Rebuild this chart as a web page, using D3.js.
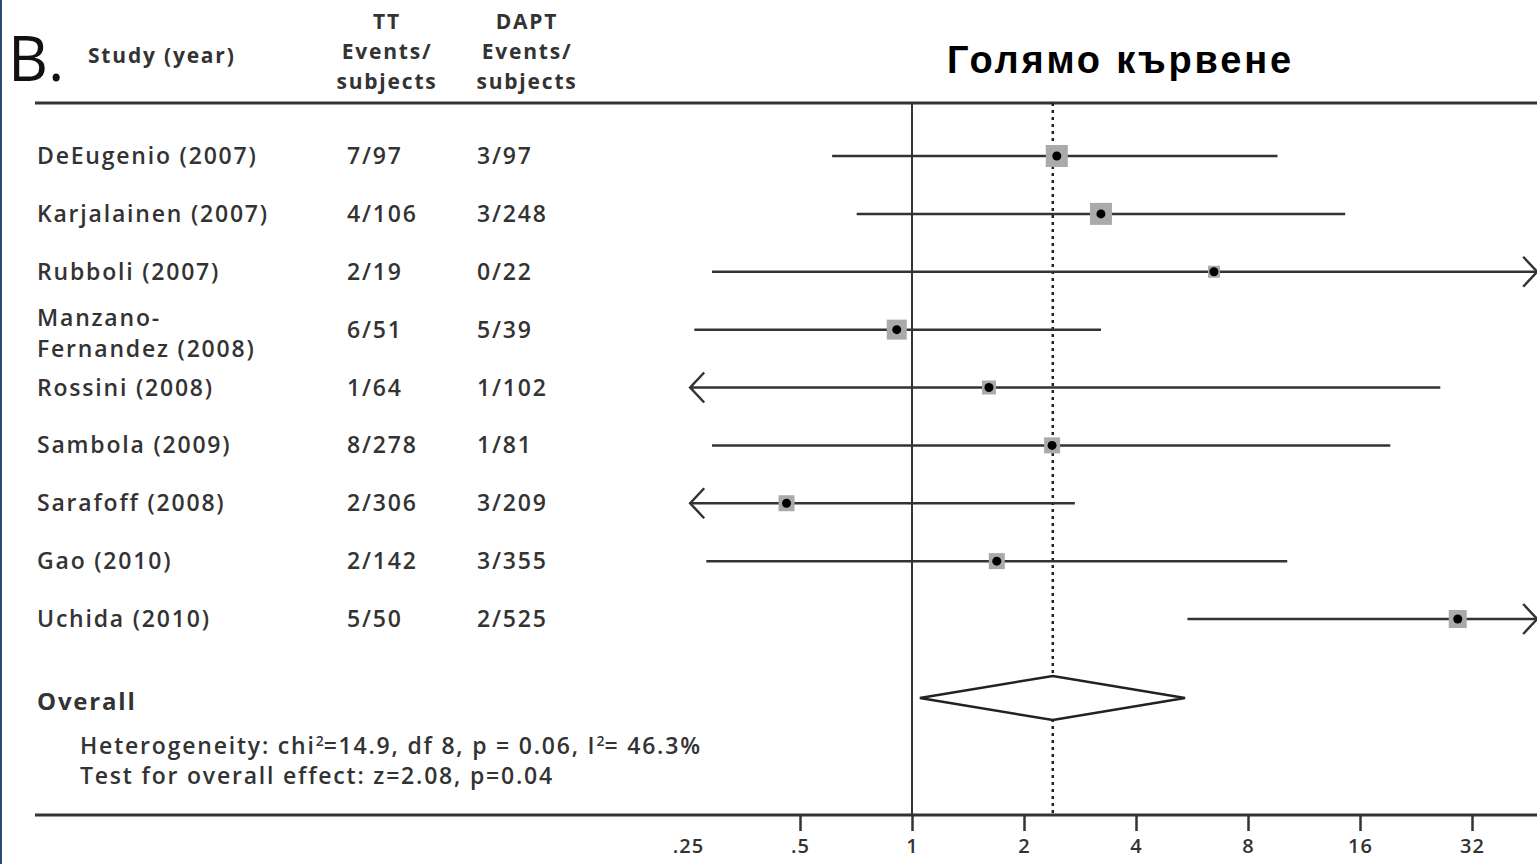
<!DOCTYPE html>
<html>
<head>
<meta charset="utf-8">
<script src="https://cdn.jsdelivr.net/npm/d3@7"></script>
<style>
  body { margin: 0; background: #fff; }
  svg { display: block; }
  .lbl { font-family: "Open Sans", sans-serif; font-weight: 600; fill: #333; font-size: 23px; letter-spacing: 1.8px; }
</style>
</head>
<body>
<svg id="chart"></svg>
<script>
// study rows
const studies = ["DeEugenio (2007)", "Karjalainen (2007)", "Rubboli (2007)", "Manzano-\nFernandez (2008)",
    "Rossini (2008)", "Sambola (2009)", "Sarafoff (2008)", "Gao (2010)", "Uchida (2010)"];
const ttEvents = ["7/97", "4/106", "2/19", "6/51", "1/64", "8/278", "2/306", "2/142", "5/50"];
const daptEvents = ["3/97", "3/248", "0/22", "5/39", "1/102", "1/81", "3/209", "3/355", "2/525"];
// odds ratio + 95% CI (log2 axis)
const orValue = [2.45, 3.22, 6.48, 0.91, 1.61, 2.38, 0.46, 1.69, 29.3];
const ciLow = [0.61, 0.71, 0.29, 0.26, 0.12, 0.29, 0.15, 0.28, 5.5];
const ciHigh = [9.6, 14.6, 70, 3.22, 26.3, 19.3, 2.74, 10.2, 90];
const weights = [22, 22, 12, 20, 14, 16, 16, 16, 18];  // box size
const overall = { or: 2.39, lo: 1.05, hi: 5.42 };
const tickValues = [0.25, 0.5, 1, 2, 4, 8, 16, 32];
const tickLabels = [".25", ".5", "1", "2", "4", "8", "16", "32"];

const W = 1537, H = 864;
const svg = d3.select('#chart').attr('width', W).attr('height', H);

svg.append('rect').attr('x', 0).attr('y', 0).attr('width', 2).attr('height', H)
    .attr('fill', '#2c4b6e');

// scales
const x = d3.scaleLog().base(2).domain([0.25, 32]).range([688, 1472]);
const xMin = 0.2534, xMax = 47.9;   // visible plot edges
const y = d3.scalePoint().domain(studies).range([156, 619]);
const yTop = 103, yAxis = 815, yOverall = 698;

// header
svg.append('text').attr('x', 8).attr('y', 81)
    .style('font-family', '"Open Sans", sans-serif').style('font-size', '62px').style('fill', '#111').text('B.');
svg.append('text').attr('class', 'lbl').attr('x', 88).attr('y', 63)
    .style('font-weight', 700).style('font-size', '21px').text('Study (year)');
const heads = [{ cx: 387, lines: ["TT", "Events/", "subjects"] }, { cx: 527, lines: ["DAPT", "Events/", "subjects"] }];
heads.forEach(h => {
    h.lines.forEach((t, i) => {
        svg.append('text').attr('class', 'lbl').attr('x', h.cx).attr('y', 29 + i * 30)
            .attr('text-anchor', 'middle').style('font-weight', 700).style('font-size', '21px').text(t);
    });
});
svg.append('text').attr('x', 947).attr('y', 73)
    .style('font-family', '"Liberation Sans", Arial, sans-serif').style('font-weight', 700)
    .style('font-size', '38px').style('letter-spacing', '2.8px').style('fill', '#000').text('Голямо кървене');

// horizontal rules
svg.append('line').attr('x1', 35).attr('x2', W).attr('y1', yTop).attr('y2', yTop)
    .attr('stroke', '#333').attr('stroke-width', 3);

// reference lines
svg.append('line').attr('x1', x(1)).attr('x2', x(1)).attr('y1', yTop).attr('y2', yAxis)
    .attr('stroke', '#333').attr('stroke-width', 2);
svg.append('line').attr('x1', x(overall.or)).attr('x2', x(overall.or)).attr('y1', yTop).attr('y2', yAxis)
    .attr('stroke', '#222').attr('stroke-width', 2.5).attr('stroke-dasharray', '3,4');

// study labels
studies.forEach((s, i) => {
    const parts = s.split('\n');
    const t = svg.append('text').attr('class', 'lbl').attr('x', 37);
    if (parts.length === 1) {
        t.attr('y', y(s) + 8).text(s);
    } else {
        t.attr('y', y(s) - 4);
        parts.forEach((p, j) => t.append('tspan').attr('x', 37).attr('dy', j === 0 ? 0 : 31).text(p));
    }
    svg.append('text').attr('class', 'lbl').attr('x', 347).attr('y', y(s) + 8).text(ttEvents[i]);
    svg.append('text').attr('class', 'lbl').attr('x', 477).attr('y', y(s) + 8).text(daptEvents[i]);
});

// CI lines with arrows when clipped
const rows = studies.map((s, i) => ({ s, or: orValue[i], lo: ciLow[i], hi: ciHigh[i], w: weights[i] }));
const g = svg.append('g');
rows.forEach(d => {
    const yy = y(d.s);
    const x1 = x(Math.max(d.lo, xMin)), x2 = x(Math.min(d.hi, xMax));
    g.append('line').attr('x1', x1).attr('x2', x2).attr('y1', yy).attr('y2', yy)
        .attr('stroke', '#333').attr('stroke-width', 2.5);
    if (d.lo < xMin) {
        g.append('path').attr('d', `M${x1 + 14},${yy - 15}L${x1},${yy}L${x1 + 14},${yy + 15}`)
            .attr('fill', 'none').attr('stroke', '#333').attr('stroke-width', 2.5);
    }
    if (d.hi > xMax) {
        g.append('path').attr('d', `M${x2 - 14},${yy - 15}L${x2},${yy}L${x2 - 14},${yy + 15}`)
            .attr('fill', 'none').attr('stroke', '#333').attr('stroke-width', 2.5);
    }
    g.append('rect').attr('x', x(d.or) - d.w / 2).attr('y', yy - d.w / 2)
        .attr('width', d.w).attr('height', d.w).attr('fill', '#aaa');
    g.append('circle').attr('cx', x(d.or)).attr('cy', yy).attr('r', 4.5).attr('fill', '#000');
});

// overall diamond
svg.append('path')
    .attr('d', `M${x(overall.lo)},${yOverall}L${x(overall.or)},${yOverall - 22}L${x(overall.hi)},${yOverall}L${x(overall.or)},${yOverall + 22}Z`)
    .attr('fill', '#fff').attr('stroke', '#222').attr('stroke-width', 2.5);

svg.append('text').attr('class', 'lbl').attr('x', 37).attr('y', 710)
    .style('font-weight', 700).style('font-size', '24px').text('Overall');
const het = svg.append('text').attr('class', 'lbl').attr('x', 80).attr('y', 754);
het.append('tspan').text('Heterogeneity: chi');
het.append('tspan').attr('dy', -8).style('font-size', '14px').style('letter-spacing', '0px').text('2');
het.append('tspan').attr('dy', 8).text('=14.9, df 8, p = 0.06, I');
het.append('tspan').attr('dy', -8).style('font-size', '14px').style('letter-spacing', '0px').text('2');
het.append('tspan').attr('dy', 8).text('= 46.3%');
svg.append('text').attr('class', 'lbl').attr('x', 80).attr('y', 784)
    .text('Test for overall effect: z=2.08, p=0.04');

// bottom axis
svg.append('line').attr('x1', 35).attr('x2', W).attr('y1', yAxis).attr('y2', yAxis)
    .attr('stroke', '#333').attr('stroke-width', 3);
const axis = d3.axisBottom(x).tickValues(tickValues).tickSize(16)
    .tickFormat((d, i) => tickLabels[i]);
const axG = svg.append('g').attr('transform', `translate(0,${yAxis})`).call(axis);
axG.select('.domain').remove();
axG.selectAll('.tick line').attr('stroke', '#333').attr('stroke-width', 2.5)
    .attr('opacity', (d, i) => i === 0 ? 0 : 1);
axG.selectAll('.tick text').attr('y', 24).attr('dy', '0.71em').attr('class', 'lbl')
    .style('font-size', '20px').style('letter-spacing', '1px').attr('fill', '#333');
</script>
</body>
</html>
